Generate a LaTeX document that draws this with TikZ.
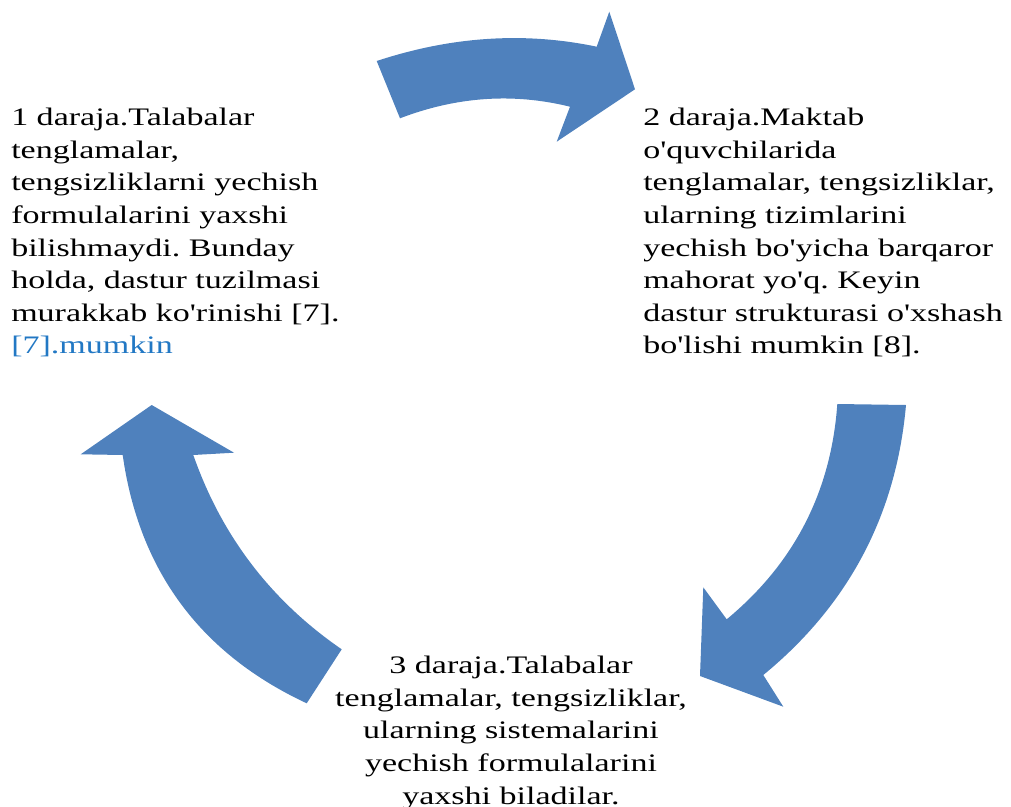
\documentclass[tikz,border=0pt]{standalone}
\usepackage{fontspec}
\setmainfont{Liberation Serif}[Ligatures=TeXOff]
\newfontfamily\widetimes{Liberation Serif}[FakeStretch=1.35,Ligatures=TeXOff]
\definecolor{arrowblue}{RGB}{79,129,189}
\definecolor{refblue}{RGB}{34,120,196}
\frenchspacing
\begin{document}
\begin{tikzpicture}[x=0.75pt,y=-0.75pt,
  cyclearrow/.style={fill=arrowblue,draw=none},
  stagetext/.style={inner sep=0pt,font=\widetimes\fontsize{18.9}{24.45}\selectfont}]
\useasboundingbox (0,0) rectangle (1011,807);
% top arrow
\path[cyclearrow] (376.7,61) .. controls (451.6,36.3) and (524.9,31.6) .. (596.7,46.7)
  -- (609.3,11.7) -- (635,89.3) -- (556.7,141.7) -- (570,106.7)
  .. controls (513.3,92.7) and (456.7,96.6) .. (400,118.3) -- cycle;
% right arrow
\path[cyclearrow] (837.3,404) -- (906,405)
  .. controls (896.2,515) and (848.6,605) .. (763.3,675)
  -- (783.3,706.7) -- (700,676) -- (703.3,587.3) -- (726.7,619.3)
  .. controls (794.2,563.4) and (831.1,491.7) .. (837.3,404) -- cycle;
% left arrow
\path[cyclearrow] (151.7,405) -- (234,452.7) -- (193.3,455)
  .. controls (221.6,535.9) and (271,600.7) .. (341.7,649.3)
  -- (306.7,703.3)
  .. controls (200.4,653.6) and (139.1,570.9) .. (122.7,455)
  -- (80.7,454.3) -- cycle;
% texts
\node[stagetext,anchor=north west,align=left] (s1) at (11,108)
 {1 daraja.Talabalar\\ tenglamalar,\\ tengsizliklarni yechish\\ formulalarini yaxshi\\ bilishmaydi. Bunday\\ holda, dastur tuzilmasi\\ murakkab ko'rinishi [7].\\ \textcolor{refblue}{[7].mumkin}};
\node[stagetext,anchor=north west,align=left] (s2) at (643,108)
 {2 daraja.Maktab\\ o'quvchilarida\\ tenglamalar, tengsizliklar,\\ ularning tizimlarini\\ yechish bo'yicha barqaror\\ mahorat yo'q. Keyin\\ dastur strukturasi o'xshash\\ bo'lishi mumkin [8].};
\node[stagetext,anchor=north,align=center] (s3) at (511,656)
 {3 daraja.Talabalar\\ tenglamalar, tengsizliklar,\\ ularning sistemalarini\\ yechish formulalarini\\ yaxshi biladilar.};
\end{tikzpicture}
\end{document}
